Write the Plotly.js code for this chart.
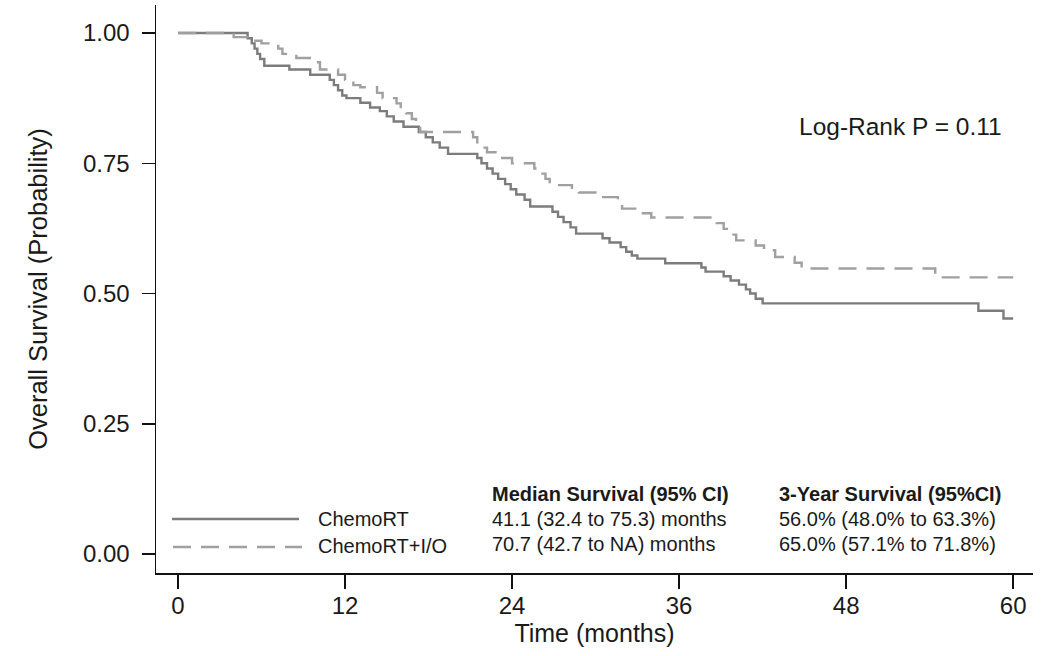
<!DOCTYPE html>
<html>
<head>
<meta charset="utf-8">
<script src="https://cdn.plot.ly/plotly-3.0.1.min.js"></script>
<style>
html,body{margin:0;padding:0;background:#fff;}
#chart{width:1051px;height:656px;}
</style>
</head>
<body>
<div id="chart"></div>
<script>
// ChemoRT (solid) Kaplan-Meier step points
var chemoTime = [0, 5.0, 5.3, 5.5, 5.7, 5.9, 6.2, 8.0, 9.5, 10.9, 11.2, 11.5, 11.8, 12.1, 13.1, 13.8,
  14.5, 15.0, 15.5, 16.2, 17.3, 17.8, 18.3, 18.8, 19.4, 21.5, 21.8, 22.2, 22.6, 23.0, 23.5, 23.9,
  24.3, 24.9, 25.3, 26.9, 27.3, 27.7, 28.2, 28.6, 30.5, 31.0, 31.8, 32.2, 32.6, 33.0, 35.0,
  37.6, 37.9, 39.2, 39.7, 40.3, 40.8, 41.1, 41.5, 42.0, 57.5, 59.3, 60.0];
var chemoSurv = [1.0, 0.99, 0.98, 0.97, 0.96, 0.95, 0.937, 0.93, 0.92, 0.91, 0.90, 0.89, 0.88, 0.875, 0.866, 0.857,
  0.85, 0.84, 0.83, 0.82, 0.81, 0.80, 0.79, 0.78, 0.768, 0.76, 0.75, 0.74, 0.73, 0.72, 0.71, 0.70,
  0.69, 0.68, 0.667, 0.657, 0.647, 0.637, 0.627, 0.615, 0.606, 0.598, 0.589, 0.58, 0.573, 0.567, 0.558,
  0.55, 0.542, 0.533, 0.525, 0.517, 0.508, 0.50, 0.49, 0.481, 0.467, 0.452, 0.452];

// ChemoRT+I/O (dashed) Kaplan-Meier step points
var ioTime = [0, 4.0, 5.0, 6.0, 7.2, 7.5, 8.5, 9.7, 10.2, 11.5, 12.0, 12.6, 13.1, 14.3, 14.7,
  15.7, 16.0, 16.4, 16.8, 17.1, 17.4, 21.2, 21.5, 21.8, 22.2, 23.0, 24.0, 25.6, 26.0, 26.4, 26.7,
  28.3, 28.8, 30.4, 31.6, 31.9, 33.4, 34.0, 38.7, 39.2, 39.7, 40.1, 41.5, 42.1, 42.9, 44.3, 44.8,
  54.4, 60.0];
var ioSurv = [1.0, 0.992, 0.985, 0.98, 0.97, 0.96, 0.952, 0.944, 0.93, 0.92, 0.91, 0.90, 0.896, 0.885, 0.875,
  0.865, 0.855, 0.846, 0.835, 0.825, 0.81, 0.80, 0.79, 0.78, 0.771, 0.76, 0.75, 0.74, 0.73, 0.72, 0.708,
  0.70, 0.694, 0.685, 0.675, 0.663, 0.654, 0.646, 0.635, 0.624, 0.613, 0.602, 0.592, 0.583, 0.57, 0.559, 0.548,
  0.531, 0.531];

var xTicks = [0, 12, 24, 36, 48, 60];
var yTicks = [0, 0.25, 0.5, 0.75, 1.0];
var yTickText = ['0.00', '0.25', '0.50', '0.75', '1.00'];

var seriesNames = ['ChemoRT', 'ChemoRT+I/O'];
var medianHeader = 'Median Survival (95% CI)';
var medianRows = ['41.1 (32.4 to 75.3) months', '70.7 (42.7 to NA) months'];
var yearHeader = '3-Year Survival (95%CI)';
var yearRows = ['56.0% (48.0% to 63.3%)', '65.0% (57.1% to 71.8%)'];
var pText = 'Log-Rank P = 0.11';

var solidColor = '#7c7c7c';
var dashColor = '#a0a0a0';
var dashPattern = '18px,10px';

var traces = [
  {x: chemoTime, y: chemoSurv, type: 'scatter', mode: 'lines', line: {shape: 'hv', color: solidColor, width: 2.4}, name: seriesNames[0], showlegend: false, hoverinfo: 'skip'},
  {x: ioTime, y: ioSurv, type: 'scatter', mode: 'lines', line: {shape: 'hv', color: dashColor, width: 2.4, dash: dashPattern}, name: seriesNames[1], showlegend: false, hoverinfo: 'skip'}
];

var fontFam = 'Liberation Sans, Arial, sans-serif';
var txtColor = '#1a1a1a';

function ann(x, y, text, size, bold) {
  return {x: x, y: y, xref: 'x', yref: 'y', text: bold ? '<b>' + text + '</b>' : text, showarrow: false,
    xanchor: 'left', yanchor: 'middle', font: {family: fontFam, size: size, color: txtColor}};
}
function px2x(px) { return (px - 178) / 13.92; }
function px2y(py) { return (554 - py) / 521; }

var annotations = [
  ann(px2x(797), px2y(126), pText, 24.5, false),
  ann(px2x(490), px2y(494), medianHeader, 20, true),
  ann(px2x(490), px2y(519), medianRows[0], 20, false),
  ann(px2x(490), px2y(544), medianRows[1], 20, false),
  ann(px2x(777), px2y(494), yearHeader, 20, true),
  ann(px2x(777), px2y(519), yearRows[0], 20, false),
  ann(px2x(777), px2y(544), yearRows[1], 20, false),
  ann(px2x(316), px2y(519), seriesNames[0], 20, false),
  ann(px2x(316), px2y(546), seriesNames[1], 20, false)
];

var shapes = [
  {type: 'line', xref: 'x', yref: 'y', x0: px2x(172), x1: px2x(299), y0: px2y(519), y1: px2y(519), line: {color: solidColor, width: 2.4}},
  {type: 'line', xref: 'x', yref: 'y', x0: px2x(173), x1: px2x(302), y0: px2y(547), y1: px2y(547), line: {color: dashColor, width: 2.4, dash: dashPattern}}
];

var layout = {
  width: 1051, height: 656,
  margin: {l: 156, r: 18, t: 5, b: 83},
  paper_bgcolor: '#fff', plot_bgcolor: '#fff',
  font: {family: fontFam, color: txtColor},
  xaxis: {
    range: [px2x(156), px2x(1033)], tickvals: xTicks, ticktext: xTicks.map(String),
    showgrid: false, zeroline: false, showline: true, linecolor: '#111', linewidth: 1.5,
    ticks: 'outside', ticklen: 14, tickwidth: 2, tickcolor: '#111',
    ticklabelstandoff: -3,
    tickfont: {size: 24, family: fontFam, color: txtColor},
    title: {text: 'Time (months)', font: {size: 25, family: fontFam, color: txtColor}, standoff: 4}
  },
  yaxis: {
    range: [px2y(573), px2y(5)], tickvals: yTicks, ticktext: yTickText,
    showgrid: false, zeroline: false, showline: true, linecolor: '#111', linewidth: 1.5,
    ticks: 'outside', ticklen: 13, tickwidth: 1.5, tickcolor: '#111',
    ticklabelstandoff: 7,
    tickfont: {size: 24, family: fontFam, color: txtColor},
    title: {text: 'Overall Survival (Probability)', font: {size: 25.5, family: fontFam, color: txtColor}, standoff: 28}
  },
  annotations: annotations,
  shapes: shapes,
  showlegend: false
};

Plotly.newPlot('chart', traces, layout, {staticPlot: true, displayModeBar: false});
</script>
</body>
</html>
